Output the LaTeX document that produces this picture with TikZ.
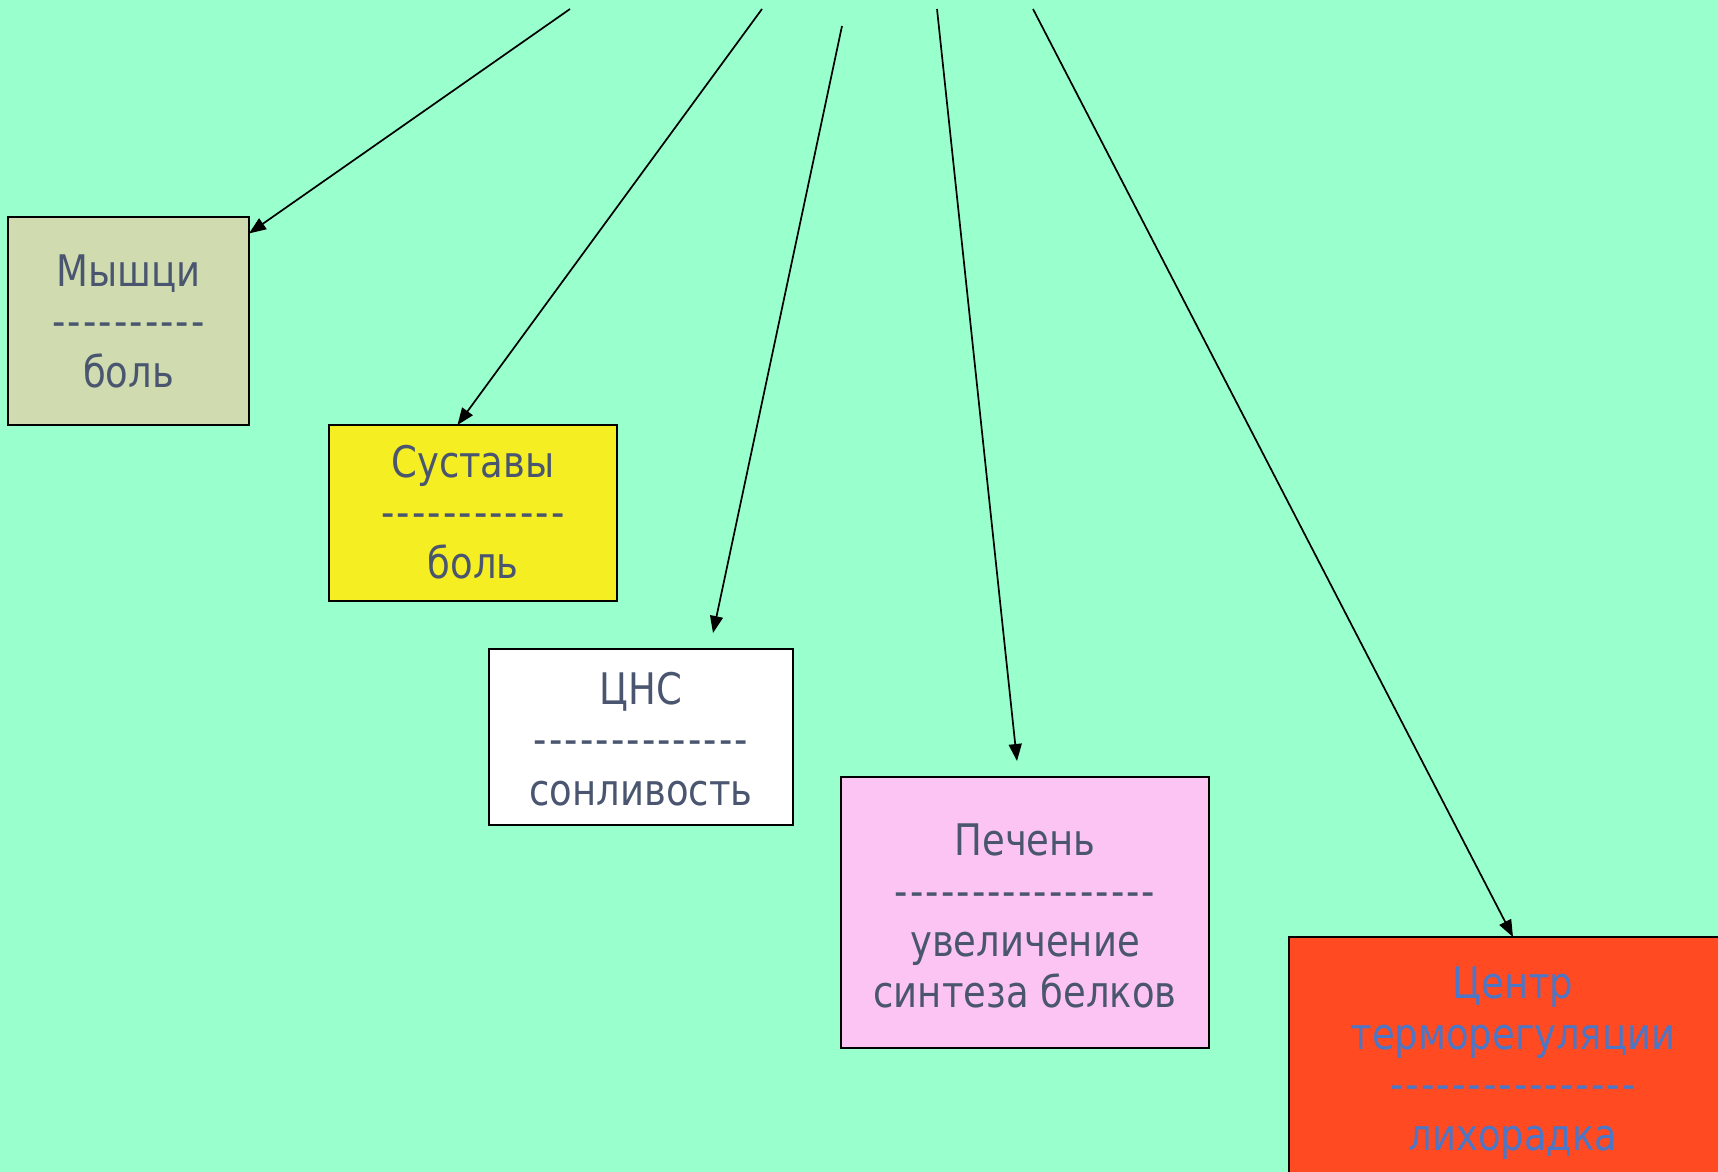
\documentclass[tikz,border=0pt]{standalone}
\usepackage{fontspec}
\setmainfont{DejaVu Sans}[FakeStretch=0.85]
\usetikzlibrary{arrows.meta}

\definecolor{bg}{HTML}{99FFCC}
\definecolor{ink}{HTML}{4A5670}
\definecolor{inkblue}{HTML}{4B77C6}
\definecolor{musfill}{HTML}{D0DCB0}
\definecolor{susfill}{HTML}{F5EE22}
\definecolor{livfill}{HTML}{FCC4F2}
\definecolor{thrfill}{HTML}{FF4A22}

% a row of n separate hyphens (kerns keep them apart and space them out)
\ExplSyntaxOn
\cs_new:Npn \hyrow #1 { \prg_replicate:nn {#1} { \kern1.05pt-\kern1.05pt } }
\ExplSyntaxOff

\tikzset{
  box/.style={draw=black, line width=1.6pt, rectangle, inner sep=0pt, outer sep=0pt},
  % multi-line text: the base anchor sits on the last line's baseline
  txt/.style={anchor=base, align=center, inner sep=0pt, text=ink,
              font=\fontsize{43.5}{50.5}\selectfont},
  conn/.style={draw=black, line width=1.7pt, -{Triangle[length=17pt,width=13pt]}}
}

\begin{document}
\begin{tikzpicture}[x=1pt, y=-1pt]
  \fill[bg] (0,0) rectangle (1718,1172);
  \useasboundingbox (0,0) rectangle (1718,1172);

  % boxes
  \node[box, fill=musfill, minimum width=241pt, minimum height=208pt] (mus) at (128.5,321) {};
  \node[box, fill=susfill, minimum width=288pt, minimum height=176pt] (sus) at (473,513) {};
  \node[box, fill=white,   minimum width=304pt, minimum height=176pt] (cns) at (641,737) {};
  \node[box, fill=livfill, minimum width=368pt, minimum height=271pt] (liv) at (1025,912.5) {};
  \node[box, fill=thrfill, minimum width=448pt, minimum height=258pt] (thr) at (1513,1066) {};

  % box texts
  \node[txt] (mus-t) at (128.5,387) {Мышци\\\hyrow{10}\\боль};
  \node[txt] (sus-t) at (473,578) {Суставы\\\hyrow{12}\\боль};
  \node[txt] (cns-t) at (641,805) {ЦНС\\\hyrow{14}\\сонливость};
  \node[txt] (liv-t) at (1025,1007) {Печень\\\hyrow{17}\\увеличение\\синтеза белков};
  \node[txt, text=inkblue] (thr-t) at (1513,1150) {Центр\\терморегуляции\\\hyrow{16}\\лихорадка};

  % arrow origins along the top edge and the two free arrow ends
  \coordinate (s1) at (570,9);
  \coordinate (s2) at (762,9);
  \coordinate (s3) at (842,26);
  \coordinate (s4) at (937,9);
  \coordinate (s5) at (1033,9);
  \coordinate (e3) at (713,633);
  \coordinate (e4) at (1017,761);

  % connectors
  \draw[conn] (s1) -- (mus.36);
  \draw[conn] (s2) -- (sus.100);
  \draw[conn] (s3) -- (e3);
  \draw[conn] (s4) -- (e4);
  \draw[conn] (s5) -- (thr.north);
\end{tikzpicture}
\end{document}
